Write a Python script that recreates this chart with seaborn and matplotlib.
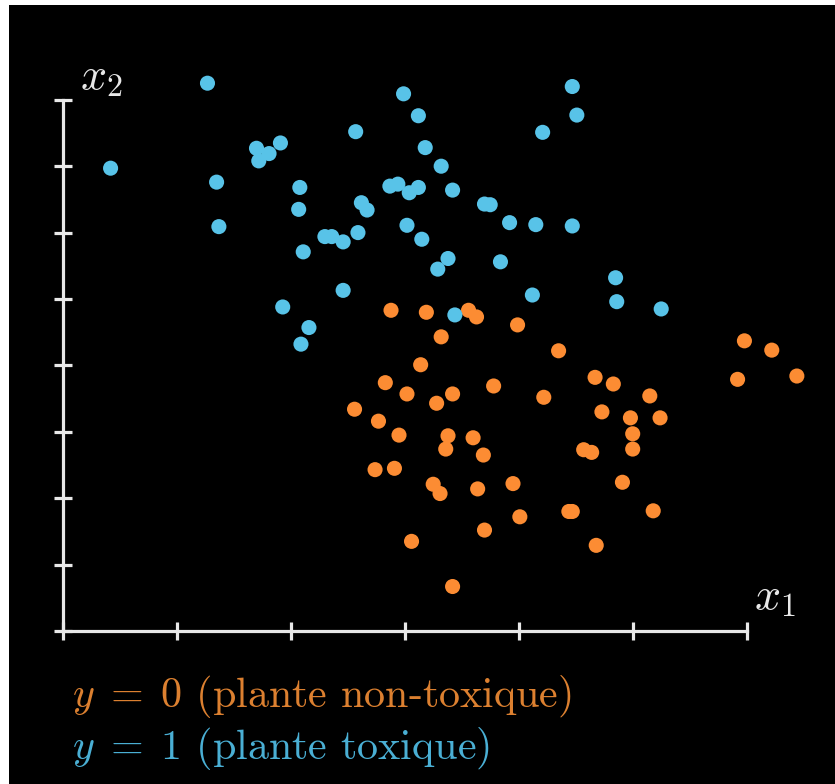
import numpy as np
import pandas as pd
import matplotlib
matplotlib.use('Agg')
import matplotlib.pyplot as plt
import seaborn as sns

# toxic plants (y = 1)
x1_toxic = [1.27, 0.42, 2.99, 3.12, 2.57, 3.18, 1.70, 1.81, 1.91, 1.72,
            1.35, 2.08, 2.07, 1.37, 2.87, 2.94, 3.04, 3.12, 2.62, 2.67,
            3.02, 3.15, 2.30, 2.36, 2.46, 2.59, 2.11, 2.46, 1.93, 2.16,
            2.09, 3.29, 3.32, 4.47, 4.51, 4.21, 3.42, 3.70, 3.75, 3.92,
            4.15, 4.47, 3.38, 3.84, 4.85, 4.12, 4.86, 5.25, 3.44]
x2_toxic = [8.25, 6.97, 8.09, 7.76, 7.52, 7.28, 7.27, 7.19, 7.35, 7.08,
            6.76, 6.68, 6.35, 6.09, 6.70, 6.73, 6.60, 6.68, 6.45, 6.34,
            6.11, 5.90, 5.94, 5.94, 5.86, 6.00, 5.71, 5.13, 4.88, 4.57,
            4.32, 5.45, 7.00, 8.20, 7.77, 7.51, 6.64, 6.43, 6.42, 6.15,
            6.12, 6.10, 5.61, 5.56, 5.32, 5.06, 4.96, 4.85, 4.76]

# non-toxic plants (y = 0)
x1_safe = [2.88, 3.19, 3.56, 3.63, 3.99, 3.32, 4.35, 5.98, 6.22, 5.92,
           6.44, 3.14, 2.83, 3.02, 3.28, 3.42, 3.78, 4.22, 4.67, 4.83,
           5.15, 2.56, 2.77, 2.95, 3.38, 3.36, 3.60, 3.69, 4.73, 4.98,
           5.24, 5.00, 5.00, 4.57, 4.64, 2.74, 2.91, 3.25, 3.31, 3.64,
           3.95, 4.91, 4.01, 4.44, 4.47, 5.18, 3.70, 3.06, 4.68, 3.42]
x2_safe = [4.83, 4.80, 4.83, 4.73, 4.61, 4.43, 4.22, 4.37, 4.23, 3.79,
           3.84, 4.01, 3.74, 3.57, 3.43, 3.57, 3.69, 3.52, 3.82, 3.72,
           3.54, 3.34, 3.16, 2.95, 2.94, 2.74, 2.91, 2.65, 3.30, 3.21,
           3.21, 2.97, 2.74, 2.73, 2.69, 2.43, 2.45, 2.21, 2.07, 2.14,
           2.22, 2.24, 1.72, 1.80, 1.80, 1.81, 1.52, 1.35, 1.29, 0.67]

labels = [r'$y\;=\;0$ (plante non-toxique)', r'$y\;=\;1$ (plante toxique)']

df = pd.DataFrame({
    'x1': x1_safe + x1_toxic,
    'x2': x2_safe + x2_toxic,
    'y': [0] * len(x1_safe) + [1] * len(x1_toxic),
})

blue = '#58c3e8'
orange = '#fc8c33'
axis_col = '#e8e8e8'

plt.rcParams['mathtext.fontset'] = 'cm'

fig = plt.figure(figsize=(8.35, 7.84), dpi=100, facecolor='white')
W, H = 835, 784
# origin of the axes at pixel (62.7, 631), 114 px per x unit, 66.4 px per y unit
ox, oy, sx, sy = 62.7, 631, 114.0, 66.4
left, top = 9, 5
ax = fig.add_axes([left / W, 0, (W - left) / W, (H - top) / H])
ax.set_facecolor('black')
ax.set_xlim((left - ox) / sx, (W - ox) / sx)
ax.set_ylim(-(H - oy) / sy, (oy - top) / sy)

sns.scatterplot(data=df, x='x1', y='x2', hue='y', palette={0: orange, 1: blue},
                s=118, linewidth=0, legend=False, ax=ax, zorder=3)

for side in ['top', 'right']:
    ax.spines[side].set_visible(False)
ax.spines['left'].set_position(('data', 0))
ax.spines['bottom'].set_position(('data', 0))
ax.spines['left'].set_bounds(0, 8)
ax.spines['bottom'].set_bounds(0, 6)
for side in ['left', 'bottom']:
    ax.spines[side].set_color(axis_col)
    ax.spines[side].set_linewidth(2.3)
ax.set_xticks(range(0, 7))
ax.set_yticks(range(0, 9))
ax.tick_params(direction='inout', length=13.5, width=2.3, color=axis_col,
               labelbottom=False, labelleft=False)
ax.set_xlabel('')
ax.set_ylabel('')

fig.text(80 / W, 1 - 77 / H, '$x_2$', color=axis_col, fontsize=33,
         ha='left', va='center')
fig.text(754 / W, 1 - 597 / H, '$x_1$', color=axis_col, fontsize=33,
         ha='left', va='center')

fig.text(72 / W, 1 - 697 / H, labels[0], color='#dc8030', fontsize=30.3,
         family='cmr10', ha='left', va='center')
fig.text(72 / W, 1 - 748 / H, labels[1], color='#4aafd4', fontsize=30.3,
         family='cmr10', ha='left', va='center')

fig.savefig('out.png', dpi=100, facecolor=fig.get_facecolor())
